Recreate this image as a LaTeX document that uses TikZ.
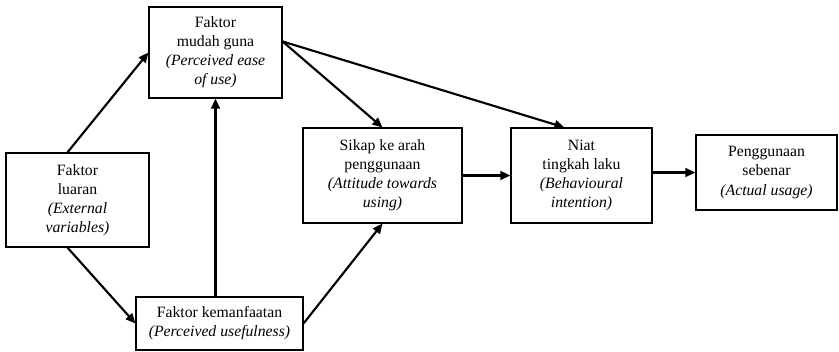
\documentclass[tikz,border=0pt]{standalone}
\usepackage{fontspec}
\setmainfont{Liberation Serif}
\usetikzlibrary{arrows.meta,calc}
\tikzset{
  box/.style={draw=black, line width=0.8pt, fill=white, inner sep=0pt, align=center,
    font=\fontsize{11.8}{14.3}\selectfont},
  arr/.style={line width=1.6pt, -{Triangle[length=7.5pt,width=6.5pt]}, shorten >=0pt}
}
\begin{document}
\begin{tikzpicture}[x=0.75pt,y=-0.75pt]
\useasboundingbox (0,0) rectangle (839,352);
\node[box, minimum width=107.25pt, minimum height=70.5pt] (lua) at (77.5,200)
  {Faktor\\ luaran\\ \textit{(External}\\ \textit{variables)}};
\node[box, minimum width=99.75pt, minimum height=68.25pt] (mud) at (215.5,52.5)
  {Faktor\\ mudah guna\\ \textit{(Perceived ease}\\ \textit{of use)}};
\node[box, minimum width=125.25pt, minimum height=39.75pt] (kem) at (219.5,323.5)
  {Faktor kemanfaatan\\ \textit{(Perceived usefulness)}};
\node[box, minimum width=119.25pt, minimum height=71.25pt] (sik) at (382.5,175.5)
  {Sikap ke arah\\ penggunaan\\ \textit{(Attitude towards}\\ \textit{using)}};
\node[box, minimum width=105.75pt, minimum height=71.25pt] (nia) at (581.5,175.5)
  {Niat\\ tingkah laku\\ \textit{(Behavioural}\\ \textit{intention)}};
\node[box, minimum width=105.75pt, minimum height=56.25pt] (pen) at (766.5,172.5)
  {Penggunaan\\ sebenar\\ \textit{(Actual usage)}};
\coordinate (luatop) at ($(lua.north west)!0.43!(lua.north east)$);
\coordinate (luabot) at ($(lua.south west)!0.43!(lua.south east)$);
\coordinate (mudout) at ($(mud.north east)!0.38!(mud.south east)$);
\coordinate (niain) at ($(nia.north west)!0.38!(nia.north east)$);
\draw[arr] (luatop) -- (mud.west);
\draw[arr] (luabot) -- (kem.west);
\draw[arr] (mud.south |- kem.north) -- (mud.south);
\draw[arr] (kem.east) -- (sik.south);
\draw[arr] (mudout) -- (sik.north);
\draw[arr] (mudout) -- (niain);
\draw[arr] (sik.east) -- (nia.west);
\draw[arr] (pen.west -| nia.east) -- (pen.west);
\end{tikzpicture}
\end{document}
